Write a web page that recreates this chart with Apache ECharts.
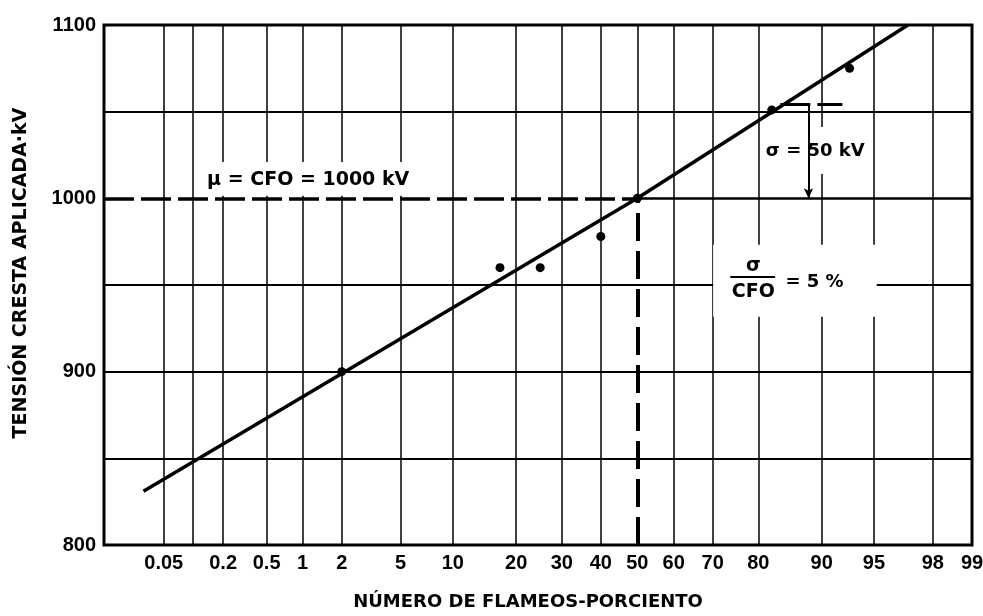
<!DOCTYPE html>
<html><head><meta charset="utf-8">
<script src="https://cdn.jsdelivr.net/npm/echarts@6/dist/echarts.min.js"></script>
<style>html,body{margin:0;padding:0;background:#fff}#c{width:983px;height:616px}</style>
</head><body><div id="c"></div>
<script>
// ---- data ----
const xTickPercents = [0.05, 0.1, 0.2, 0.5, 1, 2, 5, 10, 20, 30, 40, 50, 60, 70, 80, 90, 95, 98, 99];
const xTickLabels   = ['0.05', '', '0.2', '0.5', '1', '2', '5', '10', '20', '30', '40', '50', '60', '70', '80', '90', '95', '98', '99'];
const yTickLabels   = [800, 900, 1000, 1100];
const yGridValues   = [850, 900, 950, 1050];
const pointPercents = [2, 17, 25, 40, 50, 82.5, 93];
const pointVoltages = [900, 960, 960, 978, 1000, 1051, 1075];
const fitPercents   = [0.03, 50, 97];
const fitVoltages   = [831, 1000, 1100];
const cfoVoltage = 1000;
const cfoPercent = 50;
const sigmaVoltage = 1054.5;
const textMu = 'μ = CFO = 1000 kV';
const textSigma = 'σ = 50 kV';
const textRatioNum = 'σ';
const textRatioDen = 'CFO';
const textRatioVal = '= 5 %';
const xName = 'NÚMERO DE FLAMEOS-PORCIENTO';
const yName = 'TENSIÓN CRESTA APLICADA·kV';

// ---- normal-probability axis transform ----
function probit(p) {
  const a = [-3.969683028665376e+01, 2.209460984245205e+02, -2.759285104469687e+02, 1.383577518672690e+02, -3.066479806614716e+01, 2.506628277459239e+00];
  const b = [-5.447609879822406e+01, 1.615858368580409e+02, -1.556989798598866e+02, 6.680131188771972e+01, -1.328068155288572e+01];
  const c = [-7.784894002430293e-03, -3.223964580411365e-01, -2.400758277161838e+00, -2.549732539343734e+00, 4.374664141464968e+00, 2.938163982698783e+00];
  const d = [7.784695709041462e-03, 3.224671290700398e-01, 2.445134137142996e+00, 3.754408661907416e+00];
  const pl = 0.02425, ph = 1 - pl;
  let q, r;
  if (p < pl) {
    q = Math.sqrt(-2 * Math.log(p));
    return (((((c[0]*q+c[1])*q+c[2])*q+c[3])*q+c[4])*q+c[5]) / ((((d[0]*q+d[1])*q+d[2])*q+d[3])*q+1);
  }
  if (p <= ph) {
    q = p - 0.5; r = q * q;
    return (((((a[0]*r+a[1])*r+a[2])*r+a[3])*r+a[4])*r+a[5])*q / (((((b[0]*r+b[1])*r+b[2])*r+b[3])*r+b[4])*r+1);
  }
  q = Math.sqrt(-2 * Math.log(1 - p));
  return -(((((c[0]*q+c[1])*q+c[2])*q+c[3])*q+c[4])*q+c[5]) / ((((d[0]*q+d[1])*q+d[2])*q+d[3])*q+1);
}
const Z = pct => probit(pct / 100);
const X_MIN = -3.706;
const X_MAX = Z(99);

const gridZ = xTickPercents.filter(p => p !== cfoPercent && p !== 99).map(Z);
const labelZ = xTickPercents.filter((p, i) => xTickLabels[i] !== '').map(Z);
const fmtX = v => {
  for (let i = 0; i < xTickPercents.length; i++) {
    if (Math.abs(Z(xTickPercents[i]) - v) < 1e-6) return xTickLabels[i];
  }
  return '';
};

const INK = '#000';
const FONT = 'DejaVu Sans';
const TICKFONT = 'Liberation Sans';
const chart = echarts.init(document.getElementById('c'), null, {renderer: 'canvas'});
chart.setOption({
  animation: false,
  backgroundColor: '#fff',
  grid: {left: 104, right: 11, top: 25, bottom: 71, show: true, borderColor: '#000', borderWidth: 3, backgroundColor: 'transparent', containLabel: false, outerBoundsMode: 'none'},
  xAxis: {
    type: 'value', min: X_MIN, max: X_MAX,
    axisLine: {show: false},
    axisTick: {show: false, customValues: gridZ},
    splitLine: {show: true, lineStyle: {color: INK, width: 1.5}},
    axisLabel: {customValues: labelZ, formatter: fmtX, color: INK, fontSize: 20, fontWeight: 'bold', fontFamily: TICKFONT, margin: 8},
    name: xName, nameLocation: 'middle', nameGap: 48,
    nameTextStyle: {color: INK, fontSize: 18, fontWeight: 'bold', fontFamily: FONT, padding: [0, 20, 0, 0]}
  },
  yAxis: {
    type: 'value', min: 800, max: 1100,
    axisLine: {show: false},
    axisTick: {show: false, customValues: yGridValues},
    splitLine: {show: true, lineStyle: {color: INK, width: 2}},
    axisLabel: {customValues: yTickLabels, formatter: v => String(v), color: INK, fontSize: 20, fontWeight: 'bold', fontFamily: TICKFONT, margin: 8},
    name: yName, nameLocation: 'middle', nameGap: 73, nameRotate: 90,
    nameTextStyle: {color: INK, fontSize: 19, fontWeight: 'bold', fontFamily: FONT, padding: [0, 0, 0, 24]}
  },
  series: [
    {
      name: 'guides', type: 'line', data: [], z: 1, silent: true,
      markLine: {
        symbol: 'none', silent: true, animation: false, label: {show: false},
        lineStyle: {color: INK},
        emphasis: {disabled: true},
        data: [
          [{coord: [X_MIN, cfoVoltage], lineStyle: {type: [30, 7], width: 3.5, color: INK}}, {coord: [Z(cfoPercent), cfoVoltage]}],
          [{coord: [Z(cfoPercent), cfoVoltage], lineStyle: {type: 'solid', width: 2.5, color: INK}}, {coord: [X_MAX, cfoVoltage]}],
          [{coord: [Z(cfoPercent), cfoVoltage], lineStyle: {type: 'solid', width: 1.5, color: INK}}, {coord: [Z(cfoPercent), 1100]}],
          [{coord: [Z(cfoPercent), 800], lineStyle: {type: [28, 10], width: 4, color: INK}}, {coord: [Z(cfoPercent), cfoVoltage]}],
          [{coord: [Z(84), sigmaVoltage], lineStyle: {type: [30, 7], width: 3, color: INK}}, {coord: [Z(92.3), sigmaVoltage]}],
          [{coord: [Z(88.3), sigmaVoltage], lineStyle: {type: 'solid', width: 2, color: INK}}, {coord: [Z(88.3), cfoVoltage], symbol: 'arrow', symbolSize: [7, 10]}]
        ]
      }
    },
    {
      name: 'boxes', type: 'line', data: [], z: 2, silent: true,
      markArea: {
        silent: true, label: {show: false},
        itemStyle: {color: '#fff', opacity: 1},
        emphasis: {disabled: true},
        data: [
          [{coord: [Z(0.13), 1021]}, {coord: [Z(5.6), 1001.5]}],
          [{coord: [Z(80.8), 1041.2]}, {coord: [Z(94.6), 1014.1]}],
          [{coord: [Z(70.1), 973.2]}, {coord: [Z(95.2), 931.7]}]
        ]
      }
    },
    {
      name: 'fit', type: 'line', z: 4, silent: true,
      data: fitPercents.map((p, i) => [Z(p), fitVoltages[i]]),
      symbol: 'none', lineStyle: {color: '#000', width: 3.5}
    },
    {
      name: 'points', type: 'scatter', z: 5, silent: true,
      data: pointPercents.map((p, i) => [Z(p), pointVoltages[i]]),
      symbolSize: 9, itemStyle: {color: '#000', opacity: 1}
    },
    {
      name: 'texts', type: 'scatter', z: 6, silent: true,
      symbolSize: 0.1, itemStyle: {color: '#000', opacity: 1},
      label: {show: true, position: 'inside', color: '#000', opacity: 1, textBorderWidth: 0, fontSize: 18, fontWeight: 'bold', fontFamily: FONT, align: 'center', verticalAlign: 'middle'},
      data: [
        {value: [Z(1.11), 1010.6], label: {formatter: textMu, fontSize: 19}},
        {value: [Z(89.2), 1027.4], label: {formatter: textSigma}},
        {value: [Z(79), 961.1], label: {formatter: textRatioNum, fontSize: 19}},
        {value: [Z(79), 946.1], label: {formatter: textRatioDen, fontSize: 19}},
        {value: [Z(89.1), 951.8], label: {formatter: textRatioVal}}
      ],
      markLine: {
        symbol: 'none', silent: true, label: {show: false}, emphasis: {disabled: true},
        data: [
          [{coord: [Z(74.1), 954.7], lineStyle: {type: 'solid', width: 2, color: INK}}, {coord: [Z(83.1), 954.7]}]
        ]
      }
    }
  ]
});
</script></body></html>
